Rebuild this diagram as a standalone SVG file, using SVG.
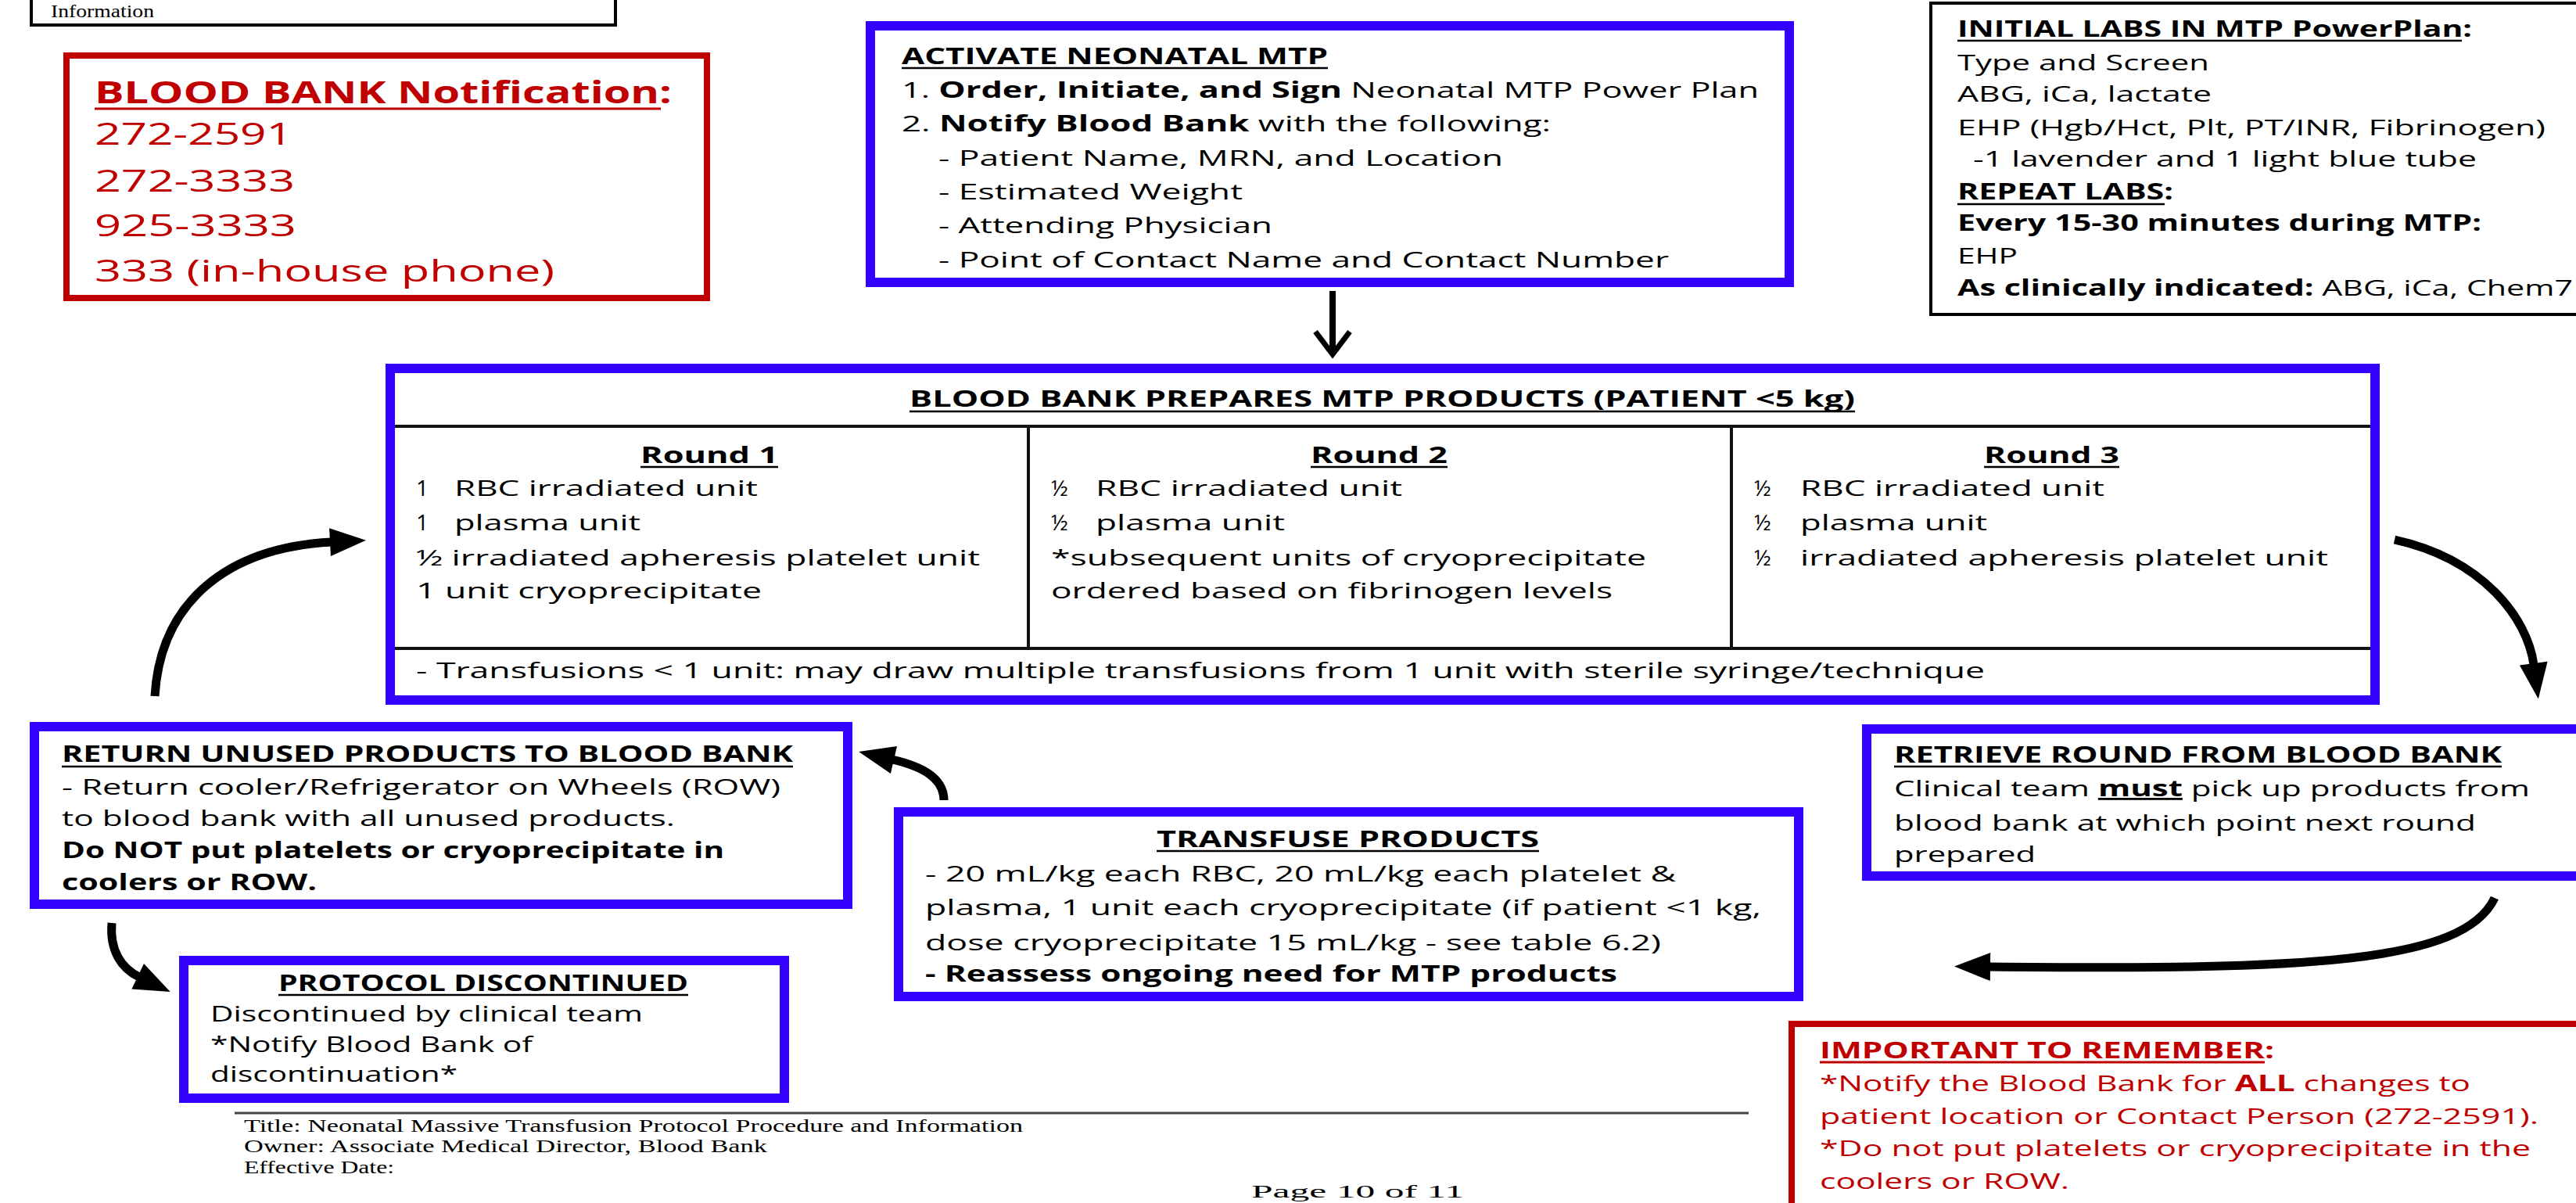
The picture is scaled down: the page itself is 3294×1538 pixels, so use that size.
<svg xmlns="http://www.w3.org/2000/svg" width="3294" height="1538" viewBox="0 0 3294 1538">
<style>
.bbox{fill:#fff;stroke:#3300FF;stroke-width:12}
.rbox{fill:#fff;stroke:#C00000;stroke-width:8}
.kbox{fill:#fff;stroke:#000;stroke-width:4}
text{font-family:"Open Sans","Noto Sans",sans-serif;font-size:28px;fill:#000}
.b{font-weight:bold}
.red{fill:#C00000}
.big{font-size:39px}
.serif{font-family:"Liberation Serif","Times New Roman",serif;font-size:23px}
.ul{stroke:#000;stroke-width:2.6}
.ulr{stroke:#C00000;stroke-width:3}
.grid{stroke:#111;stroke-width:4}
.conn{fill:none;stroke:#000;stroke-width:11}
</style>
<defs>
<marker id="ah" markerUnits="userSpaceOnUse" markerWidth="46" markerHeight="36" refX="2" refY="18" orient="auto" overflow="visible">
<path d="M0,0 L46,18 L0,36 z" fill="#000"/>
</marker>
</defs>

<g id="doc-header">
<rect class="kbox" x="40" y="-10" width="747" height="42"/>
<text class="serif" x="65" y="22" font-size="19" textLength="132" lengthAdjust="spacingAndGlyphs">Information</text>
</g>

<g id="bb-notification">
<rect class="rbox" x="85" y="71" width="819" height="310"/>
<text class="red b big" x="121" y="132" font-size="41" textLength="738" lengthAdjust="spacingAndGlyphs">BLOOD BANK Notification:</text>
<line class="ulr" x1="121" y1="139" x2="845" y2="139"/>
<text class="red big" x="121" y="185" textLength="253" lengthAdjust="spacingAndGlyphs">272-2591</text>
<text class="red big" x="121" y="245" textLength="256" lengthAdjust="spacingAndGlyphs">272-3333</text>
<text class="red big" x="121" y="302" textLength="258" lengthAdjust="spacingAndGlyphs">925-3333</text>
<text class="red big" x="121" y="360" textLength="588" lengthAdjust="spacingAndGlyphs">333 (in-house phone)</text>
</g>

<g id="activate">
<rect class="bbox" x="1113" y="33" width="1175" height="328"/>
<text class="b" x="1153" y="82" textLength="545" lengthAdjust="spacingAndGlyphs">ACTIVATE NEONATAL MTP</text>
<line class="ul" x1="1153" y1="87" x2="1698" y2="87"/>
<text x="1153" y="125" textLength="1096" lengthAdjust="spacingAndGlyphs">1. <tspan class="b">Order, Initiate, and Sign</tspan> Neonatal MTP Power Plan</text>
<text x="1153" y="168" textLength="830" lengthAdjust="spacingAndGlyphs">2. <tspan class="b">Notify Blood Bank</tspan> with the following:</text>
<text x="1200" y="212" textLength="722" lengthAdjust="spacingAndGlyphs">- Patient Name, MRN, and Location</text>
<text x="1200" y="255" textLength="389" lengthAdjust="spacingAndGlyphs">- Estimated Weight</text>
<text x="1200" y="298" textLength="427" lengthAdjust="spacingAndGlyphs">- Attending Physician</text>
<text x="1200" y="342" textLength="934" lengthAdjust="spacingAndGlyphs">- Point of Contact Name and Contact Number</text>
</g>

<g id="initial-labs">
<rect class="kbox" x="2469" y="4" width="840" height="398"/>
<text class="b" x="2503" y="47" textLength="658" lengthAdjust="spacingAndGlyphs">INITIAL LABS IN MTP PowerPlan:</text>
<line class="ul" x1="2503" y1="52" x2="3148" y2="52"/>
<text x="2503" y="90" textLength="322" lengthAdjust="spacingAndGlyphs">Type and Screen</text>
<text x="2503" y="130" textLength="325" lengthAdjust="spacingAndGlyphs">ABG, iCa, lactate</text>
<text x="2503" y="173" textLength="752" lengthAdjust="spacingAndGlyphs">EHP (Hgb/Hct, Plt, PT/INR, Fibrinogen)</text>
<text x="2523" y="213" textLength="644" lengthAdjust="spacingAndGlyphs">-1 lavender and 1 light blue tube</text>
<text class="b" x="2503" y="255" textLength="276" lengthAdjust="spacingAndGlyphs">REPEAT LABS:</text>
<line class="ul" x1="2503" y1="261" x2="2768" y2="261"/>
<text class="b" x="2503" y="295" textLength="670" lengthAdjust="spacingAndGlyphs">Every 15-30 minutes during MTP:</text>
<text x="2503" y="337" textLength="77" lengthAdjust="spacingAndGlyphs">EHP</text>
<text x="2503" y="378" textLength="787" lengthAdjust="spacingAndGlyphs"><tspan class="b">As clinically indicated:</tspan> ABG, iCa, Chem7</text>
</g>

<g id="prepare-products">
<rect class="bbox" x="499" y="471" width="2538" height="424"/>
<path class="grid" d="M505,545 H3031 M505,829 H3031"/>
<path class="grid" stroke-width="3" d="M1315,545 V829 M2214,545 V829"/>
<text class="b" x="1163" y="520" textLength="1209" lengthAdjust="spacingAndGlyphs">BLOOD BANK PREPARES MTP PRODUCTS (PATIENT &lt;5 kg)</text>
<line class="ul" x1="1163" y1="526" x2="2372" y2="526"/>
<text class="b" x="819" y="592" textLength="176" lengthAdjust="spacingAndGlyphs">Round 1</text>
<line class="ul" x1="819" y1="597" x2="995" y2="597"/>
<text class="b" x="1676" y="592" textLength="175" lengthAdjust="spacingAndGlyphs">Round 2</text>
<line class="ul" x1="1676" y1="597" x2="1851" y2="597"/>
<text class="b" x="2537" y="592" textLength="173" lengthAdjust="spacingAndGlyphs">Round 3</text>
<line class="ul" x1="2537" y1="597" x2="2710" y2="597"/>
<text x="532" y="634">1</text>
<text x="581" y="634" textLength="388" lengthAdjust="spacingAndGlyphs">RBC irradiated unit</text>
<text x="532" y="678">1</text>
<text x="581" y="678" textLength="238" lengthAdjust="spacingAndGlyphs">plasma unit</text>
<text x="532" y="723" textLength="721" lengthAdjust="spacingAndGlyphs">½ irradiated apheresis platelet unit</text>
<text x="532" y="765" textLength="442" lengthAdjust="spacingAndGlyphs">1 unit cryoprecipitate</text>
<text x="1344" y="634">½</text>
<text x="1401" y="634" textLength="392" lengthAdjust="spacingAndGlyphs">RBC irradiated unit</text>
<text x="1344" y="678">½</text>
<text x="1401" y="678" textLength="242" lengthAdjust="spacingAndGlyphs">plasma unit</text>
<text x="1344" y="723" textLength="761" lengthAdjust="spacingAndGlyphs">*subsequent units of cryoprecipitate</text>
<text x="1344" y="765" textLength="718" lengthAdjust="spacingAndGlyphs">ordered based on fibrinogen levels</text>
<text x="2243" y="634">½</text>
<text x="2302" y="634" textLength="389" lengthAdjust="spacingAndGlyphs">RBC irradiated unit</text>
<text x="2243" y="678">½</text>
<text x="2302" y="678" textLength="239" lengthAdjust="spacingAndGlyphs">plasma unit</text>
<text x="2243" y="723">½</text>
<text x="2302" y="723" textLength="675" lengthAdjust="spacingAndGlyphs">irradiated apheresis platelet unit</text>
<text x="532" y="867" textLength="2006" lengthAdjust="spacingAndGlyphs">- Transfusions &lt; 1 unit: may draw multiple transfusions from 1 unit with sterile syringe/technique</text>
</g>

<g id="retrieve">
<rect class="bbox" x="2387" y="932" width="920" height="188"/>
<text class="b" x="2422" y="975" textLength="777" lengthAdjust="spacingAndGlyphs">RETRIEVE ROUND FROM BLOOD BANK</text>
<line class="ul" x1="2422" y1="980" x2="3199" y2="980"/>
<text x="2422" y="1018" textLength="813" lengthAdjust="spacingAndGlyphs">Clinical team <tspan class="b" text-decoration="underline">must</tspan> pick up products from</text>
<text x="2422" y="1062" textLength="744" lengthAdjust="spacingAndGlyphs">blood bank at which point next round</text>
<text x="2422" y="1102" textLength="181" lengthAdjust="spacingAndGlyphs">prepared</text>
</g>

<g id="return-unused">
<rect class="bbox" x="44" y="929" width="1040" height="227"/>
<text class="b" x="79" y="974" textLength="935" lengthAdjust="spacingAndGlyphs">RETURN UNUSED PRODUCTS TO BLOOD BANK</text>
<line class="ul" x1="79" y1="980" x2="1014" y2="980"/>
<text x="79" y="1016" textLength="919" lengthAdjust="spacingAndGlyphs">- Return cooler/Refrigerator on Wheels (ROW)</text>
<text x="79" y="1056" textLength="784" lengthAdjust="spacingAndGlyphs">to blood bank with all unused products.</text>
<text class="b" x="79" y="1097" textLength="847" lengthAdjust="spacingAndGlyphs">Do NOT put platelets or cryoprecipitate in</text>
<text class="b" x="79" y="1138" textLength="326" lengthAdjust="spacingAndGlyphs">coolers or ROW.</text>
</g>

<g id="protocol-discontinued">
<rect class="bbox" x="235" y="1228" width="768" height="176"/>
<text class="b" x="356" y="1267" textLength="524" lengthAdjust="spacingAndGlyphs">PROTOCOL DISCONTINUED</text>
<line class="ul" x1="356" y1="1272" x2="880" y2="1272"/>
<text x="269" y="1306" textLength="553" lengthAdjust="spacingAndGlyphs">Discontinued by clinical team</text>
<text x="269" y="1345" textLength="412" lengthAdjust="spacingAndGlyphs">*Notify Blood Bank of</text>
<text x="269" y="1383" textLength="316" lengthAdjust="spacingAndGlyphs">discontinuation*</text>
</g>

<g id="transfuse">
<rect class="bbox" x="1149" y="1038" width="1151" height="236"/>
<text class="b" x="1479" y="1083" textLength="489" lengthAdjust="spacingAndGlyphs">TRANSFUSE PRODUCTS</text>
<line class="ul" x1="1479" y1="1088" x2="1968" y2="1088"/>
<text x="1183" y="1127" textLength="960" lengthAdjust="spacingAndGlyphs">- 20 mL/kg each RBC, 20 mL/kg each platelet &amp;</text>
<text x="1183" y="1170" textLength="1069" lengthAdjust="spacingAndGlyphs">plasma, 1 unit each cryoprecipitate (if patient &lt;1 kg,</text>
<text x="1183" y="1215" textLength="941" lengthAdjust="spacingAndGlyphs">dose cryoprecipitate 15 mL/kg - see table 6.2)</text>
<text class="b" x="1183" y="1255" textLength="885" lengthAdjust="spacingAndGlyphs">- Reassess ongoing need for MTP products</text>
</g>

<g id="important">
<rect class="rbox" x="2291" y="1309" width="1020" height="260"/>
<text class="red b" x="2327" y="1353" textLength="581" lengthAdjust="spacingAndGlyphs">IMPORTANT TO REMEMBER:</text>
<line class="ulr" x1="2327" y1="1358" x2="2896" y2="1358"/>
<text class="red" x="2327" y="1395" textLength="832" lengthAdjust="spacingAndGlyphs">*Notify the Blood Bank for <tspan class="b red">ALL</tspan> changes to</text>
<text class="red" x="2327" y="1437" textLength="919" lengthAdjust="spacingAndGlyphs">patient location or Contact Person (272-2591).</text>
<text class="red" x="2327" y="1478" textLength="909" lengthAdjust="spacingAndGlyphs">*Do not put platelets or cryoprecipitate in the</text>
<text class="red" x="2327" y="1520" textLength="319" lengthAdjust="spacingAndGlyphs">coolers or ROW.</text>
</g>

<g id="footer">
<line x1="300" y1="1423" x2="2236" y2="1423" stroke="#444" stroke-width="3"/>
<text class="serif" x="312" y="1447" textLength="996" lengthAdjust="spacingAndGlyphs">Title: Neonatal Massive Transfusion Protocol Procedure and Information</text>
<text class="serif" x="312" y="1473" textLength="669" lengthAdjust="spacingAndGlyphs">Owner: Associate Medical Director, Blood Bank</text>
<text class="serif" x="312" y="1500" textLength="192" lengthAdjust="spacingAndGlyphs">Effective Date:</text>
<text class="serif" x="1600" y="1531" font-size="32" textLength="272" lengthAdjust="spacingAndGlyphs">Page 10 of 11</text>
</g>

<g id="connectors">
<path d="M1704,372 V450" fill="none" stroke="#000" stroke-width="8"/>
<path d="M1682,424 L1704,453 L1726,424" fill="none" stroke="#000" stroke-width="7"/>
<path class="conn" d="M3062,690 C3175,715 3232,790 3240,850" marker-end="url(#ah)"/>
<path class="conn" d="M3190,1148 C3150,1232 2950,1240 2543,1236" marker-end="url(#ah)"/>
<path class="conn" d="M1207,1023 C1207,995 1180,980 1141,971" marker-end="url(#ah)"/>
<path class="conn" d="M198,890 C205,770 290,700 424,693" marker-end="url(#ah)"/>
<path class="conn" d="M143,1180 C140,1215 155,1238 178,1249" marker-end="url(#ah)"/>
</g>
</svg>
